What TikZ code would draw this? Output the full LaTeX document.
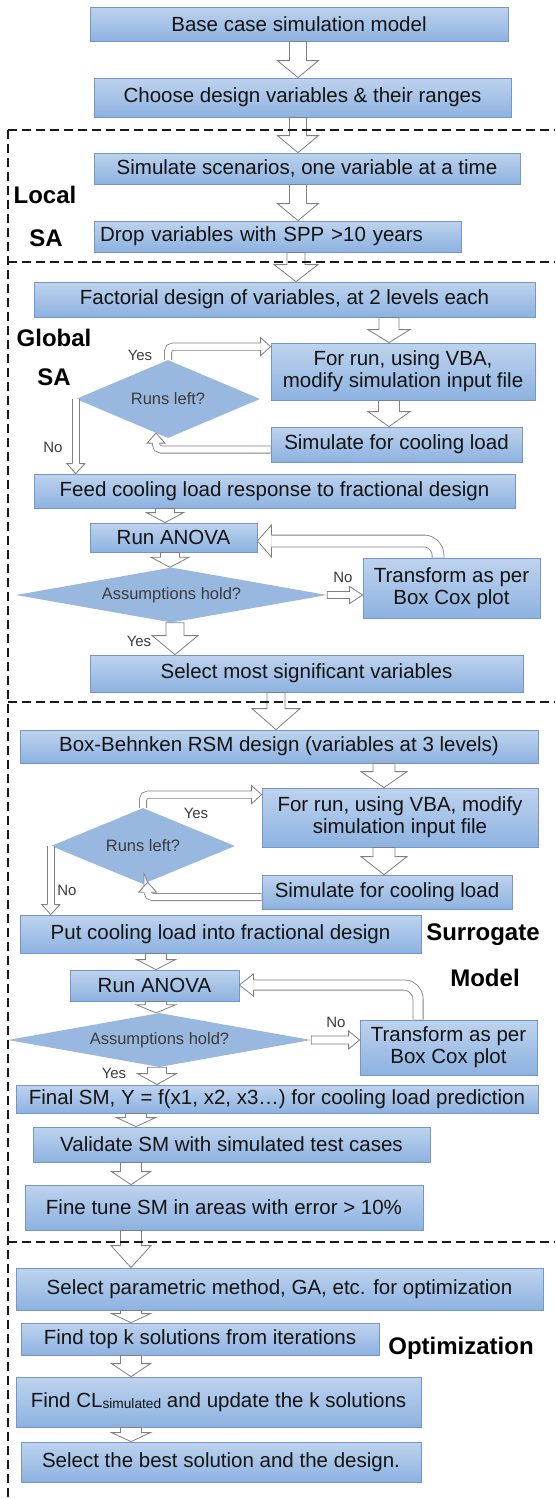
\documentclass[tikz,border=0pt]{standalone}
\usepackage{fontspec}
\setmainfont{Liberation Sans}
\usetikzlibrary{shapes.geometric,calc}

\definecolor{boxtop}{RGB}{190,211,238}
\definecolor{boxbot}{RGB}{141,178,224}
\definecolor{boxline}{RGB}{115,152,200}
\definecolor{dmdfill}{RGB}{152,184,224}
\definecolor{arrline}{RGB}{128,128,128}
\definecolor{txt}{RGB}{20,20,20}
\definecolor{dtxt}{RGB}{60,60,60}
\definecolor{secdash}{RGB}{25,25,25}

\tikzset{
  stepbox/.style={draw=boxline, line width=0.8pt, top color=boxtop, bottom color=boxbot,
    inner sep=0pt, text=txt, font=\fontsize{20.5}{22}\selectfont, align=center},
  sz/.style 2 args={minimum width=#1pt, minimum height=#2pt},
  decision/.style={diamond, fill=dmdfill, inner sep=0pt, text=dtxt,
    font=\fontsize{16.5}{18}\selectfont},
  seclabel/.style={inner sep=0pt, text=black, font=\fontsize{24}{26}\selectfont\bfseries},
  ynlabel/.style={inner sep=0pt, text=dtxt, font=\fontsize{15}{16}\selectfont},
  blk/.style={draw=arrline, fill=white, line width=0.8pt, line join=miter},
  dline/.style={draw=arrline, line width=0.8pt, double=white, double distance=#1},
  secline/.style={draw=secdash, line width=1.7pt, dash pattern=on 8.5pt off 5.5pt}
}

% hollow block arrows: start point, tip point, half shaft, half head, head length
\newcommand\vblock[5]{%
  \filldraw[blk] ($#1+(-#3,0)$) -- ($#2+(-#3,-#5)$) -- ($#2+(-#4,-#5)$) -- #2
    -- ($#2+(#4,-#5)$) -- ($#2+(#3,-#5)$) -- ($#1+(#3,0)$) -- cycle;}
\newcommand\hblock[5]{%
  \filldraw[blk] ($#1+(0,-#3)$) -- ($#2+(-#5,-#3)$) -- ($#2+(-#5,-#4)$) -- #2
    -- ($#2+(-#5,#4)$) -- ($#2+(-#5,#3)$) -- ($#1+(0,#3)$) -- cycle;}
% arrow heads closing a double-line shaft: tip, half shaft, half head, length
\newcommand\headR[4]{%
  \filldraw[blk] ($#1+(-#4,-#2)$) -- ($#1+(-#4,-#3)$) -- #1 -- ($#1+(-#4,#3)$) -- ($#1+(-#4,#2)$);}
\newcommand\headL[4]{%
  \filldraw[blk] ($#1+(#4,-#2)$) -- ($#1+(#4,-#3)$) -- #1 -- ($#1+(#4,#3)$) -- ($#1+(#4,#2)$);}
\newcommand\headD[4]{%
  \filldraw[blk] ($#1+(-#2,-#4)$) -- ($#1+(-#3,-#4)$) -- #1 -- ($#1+(#3,-#4)$) -- ($#1+(#2,-#4)$);}
\newcommand\headU[4]{%
  \filldraw[blk] ($#1+(-#2,#4)$) -- ($#1+(-#3,#4)$) -- #1 -- ($#1+(#3,#4)$) -- ($#1+(#2,#4)$);}

\begin{document}
\begin{tikzpicture}[x=1pt,y=-1pt]
\useasboundingbox (0,0) rectangle (555,1499);
\fill[white] (0,0) rectangle (555,1499);

% ---- process steps ----
\node[stepbox, sz={418}{34}] (b1) at (299,24) {Base case simulation model};
\node[stepbox, sz={417}{39}] (b2) at (302.5,97.5) {Choose design variables \& their ranges};
\node[stepbox, sz={426}{31}] (b3) at (307,168.5) {Simulate scenarios, one variable at a time};
\node[stepbox, sz={367}{31}, text width=355pt, inner xsep=6pt, align=left] (b4) at (277.5,236.5) {Drop variables with SPP >10 years};

\node[stepbox, sz={501}{35}] (b5) at (284.5,299.5) {Factorial design of variables, at 2 levels each};
\node[stepbox, sz={264}{57}] (b6) at (403,371.5) {For run, using VBA,\\modify simulation input file};
\node[decision, sz={184}{78}, aspect=2.36] (d1) at (168,399) {Runs left?};
\node[stepbox, sz={251}{35}] (b7) at (396.5,444.5) {Simulate for cooling load};
\node[stepbox, sz={481}{34}] (b8) at (274.5,491) {Feed cooling load response to fractional design};
\node[stepbox, sz={167}{29}] (b9) at (173.5,537.5) {Run ANOVA};
\node[decision, sz={311}{55}, aspect=5.65] (d2) at (171.5,595) {Assumptions hold?};
\node[stepbox, sz={177}{60}] (b10) at (451.5,588) {Transform as per\\Box Cox plot};
\node[stepbox, sz={433}{37}] (b11) at (306.5,673.5) {Select most significant variables};

\node[stepbox, sz={518}{33}] (b12) at (279,746.5) {Box-Behnken RSM design (variables at 3 levels)};
\node[stepbox, sz={276}{59}] (b13) at (400,817.5) {For run, using VBA, modify\\simulation input file};
\node[decision, sz={184}{76}, aspect=2.42] (d3) at (143,846) {Runs left?};
\node[stepbox, sz={250}{34}] (b14) at (387,892) {Simulate for cooling load};
\node[stepbox, sz={401}{38}] (b15) at (220.5,934) {Put cooling load into fractional design};
\node[stepbox, sz={169}{31}] (b16) at (154.5,985.5) {Run ANOVA};
\node[decision, sz={303}{54}, aspect=5.6] (d4) at (159.5,1040) {Assumptions hold?};
\node[stepbox, sz={177}{55}] (b17) at (448.5,1047.5) {Transform as per\\Box Cox plot};
\node[stepbox, sz={522}{28}] (b18) at (277,1099) {Final SM, Y = f(x1, x2, x3…) for cooling load prediction};
\node[stepbox, sz={397}{35}] (b19) at (231.5,1144.5) {Validate SM with simulated test cases};
\node[stepbox, sz={398}{45}] (b20) at (224,1207.5) {Fine tune SM in areas with error > 10\%};

\node[stepbox, sz={527}{42}] (b21) at (279.5,1289) {Select parametric method, GA, etc. for optimization};
\node[stepbox, sz={358}{32}] (b22) at (200,1339) {Find top k solutions from iterations};
\node[stepbox, sz={405}{50}] (b23) at (218.5,1402) {Find CL\raisebox{-1.5pt}{\fontsize{13.7}{14}\selectfont simulated} and update the k solutions};
\node[stepbox, sz={400}{40}] (b24) at (221,1462) {Select the best solution and the design.};

% ---- section titles ----
\node[seclabel] (sLocal) at (45,195) {Local};
\node[seclabel] (sSA1) at (46,238) {SA};
\node[seclabel] (sGlobal) at (54,338) {Global};
\node[seclabel] (sSA2) at (54,377) {SA};
\node[seclabel] (sSur) at (483,935) {Surrogate};
\node[seclabel] (sMod) at (485,978) {Model};
\node[seclabel] (sOpt) at (461,1348) {Optimization};

% ---- branch labels ----
\node[ynlabel] (t1) at (140,355) {Yes};
\node[ynlabel] (t2) at (53,447) {No};
\node[ynlabel] (t3) at (343,577) {No};
\node[ynlabel] (t4) at (139,641) {Yes};
\node[ynlabel] (t5) at (196,813) {Yes};
\node[ynlabel] (t6) at (67,890) {No};
\node[ynlabel] (t7) at (336,1022) {No};
\node[ynlabel] (t8) at (114,1073) {Yes};

% ---- arrow columns ----
\coordinate (k298) at (298,0);
\coordinate (k296) at (296,0);
\coordinate (k389) at (389,0);
\coordinate (k165) at (165,0);
\coordinate (k170) at (170,0);
\coordinate (k175) at (175,0);
\coordinate (k276) at (276,0);
\coordinate (k384) at (384,0);
\coordinate (k156) at (156,0);
\coordinate (k157) at (157,0);
\coordinate (k136) at (136,0);
\coordinate (k131) at (131,0);

% ---- main flow ----
\vblock{(b1.south -| k298)}{(b2.north -| k298)}{8.5}{20.5}{17}
\vblock{(b2.south -| k298)}{(b3.north -| k298)}{8.5}{20.5}{17}
\vblock{(b3.south -| k298)}{(b4.north -| k298)}{8.5}{20.5}{17}
\vblock{(b4.south -| k296)}{(b5.north -| k296)}{9}{22}{17}
\vblock{(b5.south -| k389)}{(b6.north -| k389)}{10}{21}{13}
\vblock{(b6.south -| k389)}{(b7.north -| k389)}{10.5}{21}{15}

% global SA loop
\coordinate (y1) at ($(b6.north west)+(0,4)$);
\draw[dline=6.4pt, rounded corners=5pt] (d1.north) -- (d1.north |- y1) -- ($(y1)+(-10,0)$);
\headR{(y1)}{3.6}{9}{10}
\draw[dline=6.4pt] (d1.west) -- ($(d1.west |- b8.north)+(0,-10)$);
\headD{(d1.west |- b8.north)}{3.6}{9}{10}
\coordinate (f1s) at ($(b7.west)+(0,5)$);
\coordinate (f1t) at ($(d1.south)!0.13!(d1.west)$);
\draw[dline=6.4pt, rounded corners=5pt] (f1s) -- (f1t |- f1s) -- ($(f1t)+(0,10)$);
\headU{(f1t)}{3.6}{9}{10}

\vblock{(b8.south -| k165)}{(b9.north -| k165)}{9.5}{18.5}{10}
\vblock{(b9.south -| k170)}{(d2.north -| k170)}{9.5}{19}{10}
\hblock{(d2.east)}{(d2.east -| b10.west)}{3.5}{8.5}{13}
\coordinate (l2) at (438,541);
\draw[dline=11pt, rounded corners=14pt] (b10.north -| l2) -- (l2) -- ($(b9.east |- l2)+(14,0)$);
\headL{(b9.east |- l2)}{5.9}{16}{14}
\vblock{(d2.south -| k175)}{(b11.north -| k175)}{9}{23}{19}
\vblock{(b11.south -| k276)}{(b12.north -| k276)}{9}{24}{21}

% surrogate model loop
\vblock{(b12.south -| k384)}{(b13.north -| k384)}{11}{23}{16}
\vblock{(b13.south -| k384)}{(b14.north -| k384)}{11}{23}{18}
\coordinate (y3) at ($(b13.north west)+(0,7)$);
\draw[dline=6.4pt, rounded corners=5pt] (d3.north) -- (d3.north |- y3) -- ($(y3)+(-10,0)$);
\headR{(y3)}{3.6}{9}{10}
\draw[dline=6.4pt] (d3.west) -- ($(d3.west |- b15.north)+(0,-10)$);
\headD{(d3.west |- b15.north)}{3.6}{9}{10}
\coordinate (f3s) at ($(b14.west)+(0,5)$);
\coordinate (f3t) at ($(d3.south)!0.05!(d3.east)$);
\draw[dline=6.4pt, rounded corners=5pt] (f3s) -- (f3t |- f3s) -- ($(f3t)+(0,10)$);
\headU{(f3t)}{3.6}{9}{10}

\vblock{(b15.south -| k156)}{(b16.north -| k156)}{10.5}{19.5}{10}
\vblock{(b16.south -| k156)}{(d4.north -| k156)}{10.5}{19.5}{8}
\hblock{(d4.east)}{(d4.east -| b17.west)}{4}{9}{11}
\coordinate (l4) at (418,985);
\draw[dline=9.4pt, rounded corners=14pt] (b17.north -| l4) -- (l4) -- ($(b16.east |- l4)+(14,0)$);
\headL{(b16.east |- l4)}{5.1}{11}{14}
\vblock{(d4.south -| k157)}{(b18.north -| k157)}{9.5}{19.5}{11}
\vblock{(b18.south -| k136)}{(b19.north -| k136)}{10.5}{19.5}{9}
\vblock{(b19.south -| k131)}{(b20.north -| k131)}{10.5}{19.5}{13}

% optimization
\vblock{(b20.south -| k131)}{(b21.north -| k131)}{10.5}{20}{22}
\vblock{(b21.south -| k131)}{(b22.north -| k131)}{10.5}{19.5}{9}
\vblock{(b22.south -| k131)}{(b23.north -| k131)}{10.5}{19.5}{13}
\vblock{(b23.south -| k131)}{(b24.north -| k131)}{10.5}{19.5}{9}

% ---- section frames ----
\draw[secline] (8,130) -- (555,130);
\draw[secline] (8,262) -- (555,262);
\draw[secline] (8,702) -- (555,702);
\draw[secline] (8,1242) -- (555,1242);
\draw[secline] (8,130) -- (8,1499);
\end{tikzpicture}
\end{document}
